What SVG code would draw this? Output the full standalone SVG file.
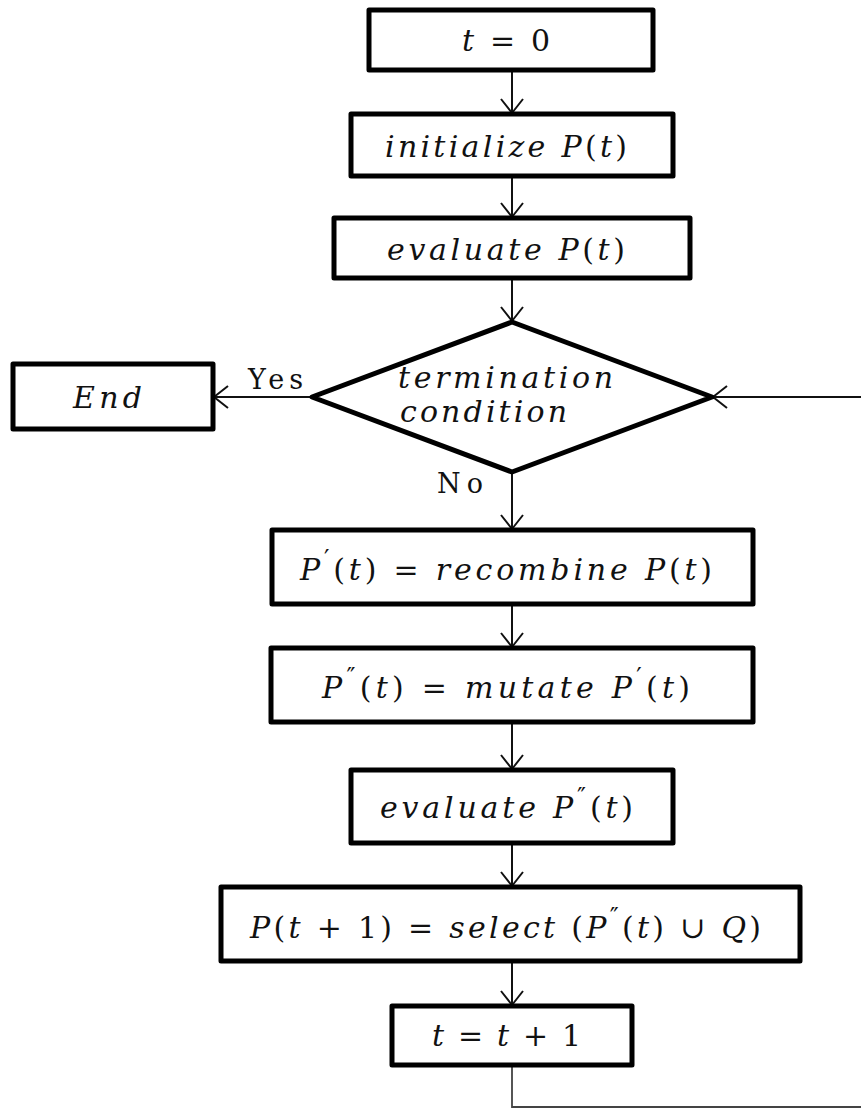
<svg xmlns="http://www.w3.org/2000/svg" width="861" height="1109" viewBox="0 0 861 1109">
<style>
.box{fill:#fff;stroke:#000;stroke-width:5;stroke-linejoin:round}
.m{font-family:"DejaVu Serif","Liberation Serif",serif;font-style:italic;font-size:30px;fill:#111;text-anchor:start}
.r{font-family:"DejaVu Serif","Liberation Serif",serif;font-size:27px;fill:#111}
.u{font-style:normal}
.sup{font-size:24px;font-style:normal}
.c{fill:none;stroke:#111;stroke-width:2}
</style>
<defs>
<marker id="ah" viewBox="-16 -13 18 26" markerWidth="18" markerHeight="26" refX="0" refY="0" markerUnits="userSpaceOnUse" orient="auto">
<path d="M-14,-11 L0,0 L-14,11" fill="none" stroke="#111" stroke-width="2"/>
</marker>
</defs>
<g id="connectors">
<line class="c" x1="512" y1="70" x2="512" y2="113" marker-end="url(#ah)"/>
<line class="c" x1="512" y1="176" x2="512" y2="217" marker-end="url(#ah)"/>
<line class="c" x1="512" y1="278" x2="512" y2="321" marker-end="url(#ah)"/>
<line class="c" x1="312" y1="397" x2="214" y2="397" marker-end="url(#ah)"/>
<line class="c" x1="861" y1="397" x2="713" y2="397" marker-end="url(#ah)"/>
<line class="c" x1="512" y1="472" x2="512" y2="529" marker-end="url(#ah)"/>
<line class="c" x1="512" y1="604" x2="512" y2="647" marker-end="url(#ah)"/>
<line class="c" x1="512" y1="722" x2="512" y2="769" marker-end="url(#ah)"/>
<line class="c" x1="512" y1="843" x2="512" y2="886" marker-end="url(#ah)"/>
<line class="c" x1="512" y1="961" x2="512" y2="1005" marker-end="url(#ah)"/>
<polyline class="c" points="512,1065 512,1107 861,1107" style="stroke:#444;stroke-width:1.8"/>
<text class="r" x="248" y="389" textLength="55">Yes</text>
<text class="r" x="437" y="493" textLength="46">No</text>
</g>
<g id="n-t0">
<rect class="box" x="369" y="10" width="284" height="60"/>
<text class="m" x="462" y="51" textLength="88">t <tspan class="u">= 0</tspan></text>
</g>
<g id="n-init">
<rect class="box" x="351" y="114" width="322" height="62"/>
<text class="m" x="385" y="157" textLength="242">initialize P<tspan class="u">(</tspan>t<tspan class="u">)</tspan></text>
</g>
<g id="n-eval">
<rect class="box" x="334" y="218" width="356" height="60"/>
<text class="m" x="387" y="260" textLength="238">evaluate P<tspan class="u">(</tspan>t<tspan class="u">)</tspan></text>
</g>
<g id="n-cond">
<polygon class="box" points="512,322 712,397 512,472 312,397"/>
<text class="m" x="398" y="388" textLength="215">termination</text>
<text class="m" x="400" y="422" textLength="167">condition</text>
</g>
<g id="n-end">
<rect class="box" x="13" y="364" width="200" height="65"/>
<text class="m" x="73" y="408" textLength="69">End</text>
</g>
<g id="n-recombine">
<rect class="box" x="272" y="530" width="481" height="74"/>
<text class="m" x="300" y="580" textLength="412">P<tspan class="sup" dy="-13">′</tspan><tspan class="u" dy="13">(</tspan>t<tspan class="u">) =  </tspan>recombine P<tspan class="u">(</tspan>t<tspan class="u">)</tspan></text>
</g>
<g id="n-mutate">
<rect class="box" x="271" y="648" width="482" height="74"/>
<text class="m" x="322" y="698" textLength="368">P<tspan class="sup" dy="-13">″</tspan><tspan class="u" dy="13">(</tspan>t<tspan class="u">) =  </tspan>mutate P<tspan class="sup" dy="-13">′</tspan><tspan class="u" dy="13">(</tspan>t<tspan class="u">)</tspan></text>
</g>
<g id="n-eval2">
<rect class="box" x="351" y="770" width="322" height="73"/>
<text class="m" x="380" y="818" textLength="253">evaluate P<tspan class="sup" dy="-13">″</tspan><tspan class="u" dy="13">(</tspan>t<tspan class="u">)</tspan></text>
</g>
<g id="n-select">
<rect class="box" x="221" y="887" width="579" height="74"/>
<text class="m" x="250" y="938" textLength="511">P<tspan class="u">(</tspan>t <tspan class="u">+ 1) = </tspan>select <tspan class="u">(</tspan>P<tspan class="sup" dy="-13">″</tspan><tspan class="u" dy="13">(</tspan>t<tspan class="u">)  ∪ </tspan>Q<tspan class="u">)</tspan></text>
</g>
<g id="n-inc">
<rect class="box" x="392" y="1006" width="240" height="59"/>
<text class="m" x="432" y="1046" textLength="149">t <tspan class="u">= </tspan>t <tspan class="u">+ 1</tspan></text>
</g>
</svg>
